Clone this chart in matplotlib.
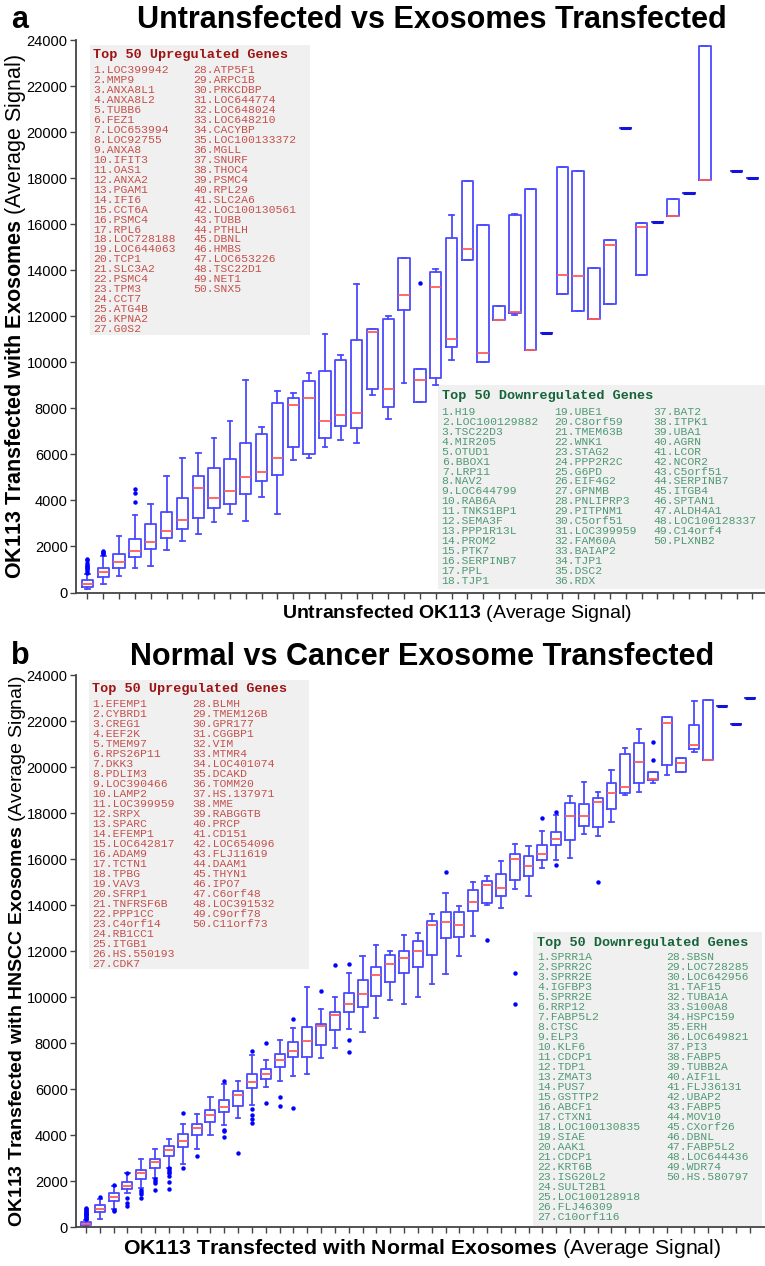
import matplotlib
matplotlib.use("Agg")
import matplotlib.pyplot as plt
import matplotlib.transforms as mtransforms
from matplotlib.patches import Rectangle

plt.rcParams['font.family'] = ['Liberation Sans', 'DejaVu Sans']
plt.rcParams['mathtext.fontset'] = 'custom'
plt.rcParams['mathtext.bf'] = 'Liberation Sans:bold'
plt.rcParams['mathtext.rm'] = 'Liberation Sans'
plt.rcParams['mathtext.it'] = 'Liberation Sans:italic'

# ---- panel a : five-number summaries per bin (None = empty bin) ----
A_LOW = [150, 360, 720, 1050, 1140, 1830, 2230, 2540, 3070, 3430, 3120, 4170, 3430, 5760, 5830,
         6310, 6630, 6490, 8600, 7540, 9110, 8270, 9020, 10110, 14430, 10020, 11830, 12070, 10540,
         11270, 12980, 12230, 11880, 12530, 20170, 13800, 16110, 16370, 17370, 17930, None, 18310, 18020]
A_Q1 = [240, 660, 1050, 1540, 1890, 2360, 2770, 3240, 3660, 3850, 4300, 4860, 5110, 6300, 6010,
        6700, 7250, 7140, 8850, 8050, 12280, 8270, 9310, 10670, 14430, 10020, 11830, 12150, 10540,
        11270, 12980, 12230, 11880, 12530, 20170, 13800, 16110, 16370, 17370, 17930, None, 18310, 18020]
A_MED = [380, 880, 1310, 1800, 2210, 2670, 3150, 4560, 4110, 4400, 5010, 5240, 5830, 8150, 8460,
         7470, 7690, 7790, 11300, 8850, 12930, 9210, 13250, 11020, 14920, 10410, 11830, 12180, 10540,
         11270, 13790, 13750, 11880, 15100, 20170, 15860, 16110, 16370, 17370, 17930, None, 18310, 18020]
A_Q3 = [530, 1050, 1670, 2330, 2970, 3490, 4100, 5070, 5400, 5790, 6490, 6880, 8230, 8460, 9200,
        9640, 10110, 10950, 11440, 11890, 14530, 9720, 13920, 15400, 17880, 15970, 12430, 16380, 17510,
        11270, 18470, 18330, 14080, 15310, 20170, 16070, 16110, 17100, 17370, 23730, None, 18310, 18020]
A_HIGH = [790, 1600, 2440, 3360, 3830, 5080, 5830, 6050, 6700, 7430, 9230, 7170, 8760, 8660, 9530,
          11210, 10310, 13380, 11440, 12010, 14530, 9720, 14070, 16380, 17880, 15970, 12430, 16440, 17510,
          11270, 18470, 18330, 14080, 15310, 20170, 16070, 16110, 17100, 17370, 23730, None, 18310, 18020]
A_FLIERS = {0: [850, 950, 1000, 1050, 1100, 1150, 1200, 1300, 1400, 1450],
            1: [1680, 1720, 1760, 1800],
            3: [3950, 4330, 4490],
            21: [13440]}

# ---- panel b ----
B_LOW = [30, 375, 800, 1470, 1690, 2150, 2580, 2770, 3420, 4030, 4430, 4750, 5300, 6090, 6340,
         6580, 6670, 7360, 7780, 8610, 8500, 9100, 9880, 9710, 10000, 10580, 11010, 11810, 12680,
         14000, 13880, 14700, 14400, 15610, 15970, 16040, 17110, 17030, 17610, 18800, 18910, 19300,
         19650, 19810, 20670, 20300, 22650, 21900, 23000]
B_Q1 = [90, 680, 1160, 1650, 2120, 2580, 3090, 3470, 4030, 4580, 5030, 5260, 6060, 6430, 6990,
        7390, 7420, 7910, 8570, 9350, 9590, 10060, 10670, 11040, 11330, 11830, 12580, 12610, 13740,
        14110, 14400, 15090, 15270, 15970, 16620, 16830, 17450, 17420, 18170, 18870, 19300, 19450,
        20090, 19810, 20780, 20300, 22650, 21900, 23000]
B_MED = [140, 810, 1300, 1790, 2340, 2820, 3350, 3770, 4320, 4900, 5230, 5760, 6310, 6670, 7280,
         7650, 8110, 8750, 9220, 9710, 10130, 10960, 11450, 11710, 12030, 13160, 13270, 13160, 14160,
         14900, 14750, 16010, 15710, 16230, 16880, 17870, 17870, 18480, 18870, 19130, 20230, 19480,
         21910, 20200, 20980, 20300, 22650, 21900, 23000]
B_Q3 = [220, 950, 1470, 1960, 2510, 2960, 3540, 4040, 4510, 5110, 5550, 5920, 6670, 6900, 7520,
        8040, 8700, 8850, 9350, 10200, 10750, 11300, 11850, 12030, 12430, 13320, 13700, 13700, 14650,
        15070, 15350, 16230, 16140, 16620, 17200, 18460, 18400, 18650, 19320, 20570, 21040, 19800,
        22200, 20400, 21830, 22910, 22650, 21900, 23000]
B_HIGH = [320, 1250, 1800, 2340, 2990, 3420, 3860, 4480, 4940, 5660, 6210, 6350, 7490, 7280, 8160,
          8680, 10460, 9490, 10030, 11040, 11810, 12260, 12030, 12720, 12810, 13620, 14530, 13960, 15000,
          15270, 15930, 16670, 16580, 17240, 17930, 18750, 19350, 18940, 19880, 20830, 21680, 19800,
          22200, 20400, 22890, 22910, 22650, 21900, 23000]
B_FLIERS = {0: [360, 400, 440, 480, 520, 560, 600, 640, 680, 720, 760, 800, 850],
            1: [1300], 2: [700, 750, 1860], 3: [920, 1070, 1260, 2370],
            4: [1260, 1430, 1520, 1620], 5: [1620, 1940, 2020, 2120],
            6: [1680, 1980, 2250, 2340, 2410, 2480, 2560], 7: [2580, 4970], 8: [3120],
            10: [3930, 4190, 4250, 6380], 11: [3230], 12: [4530, 4720, 4900, 5130, 7650],
            13: [5420, 8000], 14: [5270, 5660], 15: [5190, 9060], 17: [10290], 18: [11400],
            19: [7630, 8130, 11450], 26: [15460], 29: [12480], 31: [9700, 11070],
            33: [17810], 34: [15750, 18040], 37: [15000], 41: [20320, 21100]}

A_UP = ["LOC399942", "MMP9", "ANXA8L1", "ANXA8L2", "TUBB6", "FEZ1", "LOC653994", "LOC92755", "ANXA8",
        "IFIT3", "OAS1", "ANXA2", "PGAM1", "IFI6", "CCT6A", "PSMC4", "RPL6", "LOC728188", "LOC644063",
        "TCP1", "SLC3A2", "PSMC4", "TPM3", "CCT7", "ATG4B", "KPNA2", "G0S2", "ATP5F1", "ARPC1B",
        "PRKCDBP", "LOC644774", "LOC648024", "LOC648210", "CACYBP", "LOC100133372", "MGLL", "SNURF",
        "THOC4", "PSMC4", "RPL29", "SLC2A6", "LOC100130561", "TUBB", "PTHLH", "DBNL", "HMBS",
        "LOC653226", "TSC22D1", "NET1", "SNX5"]
A_DOWN = ["H19", "LOC100129882", "TSC22D3", "MIR205", "OTUD1", "BBOX1", "LRP11", "NAV2", "LOC644799",
          "RAB6A", "TNKS1BP1", "SEMA3F", "PPP1R13L", "PROM2", "PTK7", "SERPINB7", "PPL", "TJP1",
          "UBE1", "C8orf59", "TMEM63B", "WNK1", "STAG2", "PPP2R2C", "G6PD", "EIF4G2", "GPNMB",
          "PNLIPRP3", "PITPNM1", "C5orf51", "LOC399959", "FAM60A", "BAIAP2", "TJP1", "DSC2", "RDX",
          "BAT2", "ITPK1", "UBA1", "AGRN", "LCOR", "NCOR2", "C5orf51", "SERPINB7", "ITGB4", "SPTAN1",
          "ALDH4A1", "LOC100128337", "C14orf4", "PLXNB2"]
B_UP = ["EFEMP1", "CYBRD1", "CREG1", "EEF2K", "TMEM97", "RPS26P11", "DKK3", "PDLIM3", "LOC390466",
        "LAMP2", "LOC399959", "SRPX", "SPARC", "EFEMP1", "LOC642817", "ADAM9", "TCTN1", "TPBG", "VAV3",
        "SFRP1", "TNFRSF6B", "PPP1CC", "C4orf14", "RB1CC1", "ITGB1", "HS.550193", "CDK7", "BLMH",
        "TMEM126B", "GPR177", "CGGBP1", "VIM", "MTMR4", "LOC401074", "DCAKD", "TOMM20", "HS.137971",
        "MME", "RABGGTB", "PRCP", "CD151", "LOC654096", "FLJ11619", "DAAM1", "THYN1", "IPO7",
        "C6orf48", "LOC391532", "C9orf78", "C11orf73"]
B_DOWN = ["SPRR1A", "SPRR2C", "SPRR2E", "IGFBP3", "SPRR2E", "RRP12", "FABP5L2", "CTSC", "ELP3", "KLF6",
          "CDCP1", "TDP1", "ZMAT3", "PUS7", "GSTTP2", "ABCF1", "CTXN1", "LOC100130835", "SIAE", "AAK1",
          "CDCP1", "KRT6B", "ISG20L2", "SULT2B1", "LOC100128918", "FLJ46309", "C10orf116", "SBSN",
          "LOC728285", "LOC642956", "TAF15", "TUBA1A", "S100A8", "HSPC159", "ERH", "LOC649821", "PI3",
          "FABP5", "TUBB2A", "AIF1L", "FLJ36131", "UBAP2", "FABP5", "MOV10", "CXorf26", "DBNL",
          "FABP5L2", "LOC644436", "WDR74", "HS.580797"]

W, H = 765, 1266
fig = plt.figure(figsize=(W / 100, H / 100), dpi=100)
px = mtransforms.Affine2D().scale(1 / W, -1 / H).translate(0, 1) + fig.transFigure

BOX_C = '#4a4aff'
MED_C = '#ff5a5a'
UP_HEAD, UP_ITEM = '#9e1414', '#c4504c'
DN_HEAD, DN_ITEM = '#16643a', '#4e9a72'


def draw_boxes(ax, low, q1, med, q3, high, fliers):
    stats, pos, single = [], [], []
    for i in range(len(low)):
        if low[i] is None:
            continue
        stats.append(dict(whislo=low[i], q1=q1[i], med=med[i], q3=q3[i], whishi=high[i],
                          fliers=fliers.get(i, [])))
        pos.append(i)
        single.append(q1[i] == q3[i] and low[i] == high[i])
    res = ax.bxp(stats, positions=pos, widths=0.72, capwidths=0.3, manage_ticks=False,
                 boxprops=dict(color=BOX_C, lw=1.3),
                 whiskerprops=dict(color=BOX_C, lw=1.3),
                 capprops=dict(color=BOX_C, lw=1.3),
                 medianprops=dict(color=MED_C, lw=1.3),
                 flierprops=dict(marker='o', markersize=3.2, markerfacecolor='#0000ff',
                                 markeredgecolor='none'))
    for k, s in enumerate(single):
        if s:
            res['medians'][k].set_color('#1414d8')
            res['medians'][k].set_linewidth(2.2)


def style_axes(ax, n, xmax):
    ax.set_xlim(-0.72, xmax)
    ax.set_ylim(0, 24000)
    ax.set_xticks(range(n))
    ax.set_xticklabels([])
    ax.set_yticks(range(0, 24001, 2000))
    ax.tick_params(axis='both', direction='out', length=4, width=1, color='#444444',
                   labelsize=10.5, pad=2)
    for sp in ['top', 'right']:
        ax.spines[sp].set_visible(False)
    for sp in ['left', 'bottom']:
        ax.spines[sp].set_color('#444444')
        ax.spines[sp].set_linewidth(1.3)


def gene_box(ax, rect, header, genes, split, col_x, y_head, y0, hc, ic):
    x0, y0r, x1, y1 = rect
    ax.add_patch(Rectangle((x0, y0r), x1 - x0, y1 - y0r, transform=px, facecolor='#f0f0f0',
                           edgecolor='none', zorder=1, clip_on=False))
    ax.text(col_x[0], y_head, header, transform=px, ha='left', va='center', fontsize=9.7,
            fontweight='bold', color=hc, family='Liberation Mono', zorder=3)
    start = 0
    for c, cnt in enumerate(split):
        for r in range(cnt):
            k = start + r
            ax.text(col_x[c], y0 + r * 9.97, f"{k + 1}.{genes[k]}", transform=px, ha='left',
                    va='center', fontsize=8.2, color=ic, family='Liberation Mono', zorder=3)
        start += cnt


# panel a
ax1 = fig.add_axes([76 / W, 1 - 592.5 / H, 689 / W, 552.5 / H])
gene_box(ax1, (90, 45, 310, 335), "Top 50 Upregulated Genes", A_UP, [27, 23], [93.5, 193.3],
         55, 70, UP_HEAD, UP_ITEM)
gene_box(ax1, (437.7, 385, 765, 589), "Top 50 Downregulated Genes", A_DOWN, [18, 18, 14],
         [441.7, 554.3, 653.7], 395.7, 411.7, DN_HEAD, DN_ITEM)
draw_boxes(ax1, A_LOW, A_Q1, A_MED, A_Q3, A_HIGH, A_FLIERS)
style_axes(ax1, 43, 42.8)
ax1.set_xlabel(r'$\mathbf{Untransfected\ OK113}$ (Average Signal)', fontsize=14)
ax1.xaxis.set_label_coords(0.553, -0.019)
ax1.set_ylabel(r'$\mathbf{OK113\ Transfected\ with\ Exosomes}$ (Average Signal)', fontsize=15.5)
ax1.yaxis.set_label_coords(-0.069, 0.5)

# panel b
ax2 = fig.add_axes([76 / W, 1 - 1227.3 / H, 689 / W, 552 / H])
gene_box(ax2, (89, 680, 309, 969), "Top 50 Upregulated Genes", B_UP, [27, 23], [92.3, 192.3],
         689.3, 704.3, UP_HEAD, UP_ITEM)
gene_box(ax2, (532.7, 931.7, 762, 1226), "Top 50 Downregulated Genes", B_DOWN, [27, 23],
         [537.3, 666], 943.3, 957.3, DN_HEAD, DN_ITEM)
draw_boxes(ax2, B_LOW, B_Q1, B_MED, B_Q3, B_HIGH, B_FLIERS)
style_axes(ax2, 49, 49.1)
ax2.set_xlabel(r'$\mathbf{OK113\ Transfected\ with\ Normal\ Exosomes}$ (Average Signal)',
               fontsize=15.3)
ax2.xaxis.set_label_coords(0.502, -0.017)
ax2.set_ylabel(r'$\mathbf{OK113\ Transfected\ with\ HNSCC\ Exosomes}$ (Average Signal)', fontsize=14)
ax2.yaxis.set_label_coords(-0.069, 0.5)

fig.text(432, 20, "Untransfected vs Exosomes Transfected", transform=px, ha='center', va='center',
         fontsize=22, fontweight='bold')
fig.text(422, 657, "Normal vs Cancer Exosome Transfected", transform=px, ha='center', va='center',
         fontsize=22, fontweight='bold')
fig.text(20, 20, "a", transform=px, ha='center', va='center', fontsize=22, fontweight='bold')
fig.text(20, 656, "b", transform=px, ha='center', va='center', fontsize=22, fontweight='bold')

fig.savefig("out.png", dpi=100)
